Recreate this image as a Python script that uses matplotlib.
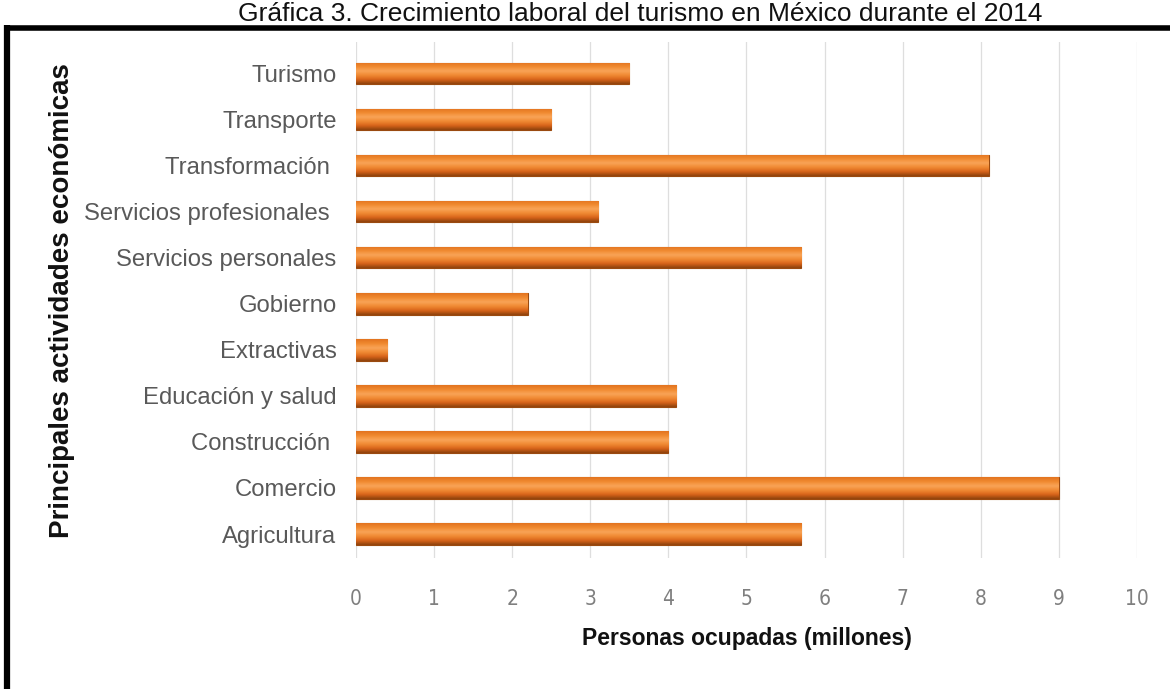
import matplotlib
matplotlib.use("Agg")
import matplotlib.pyplot as plt
import numpy as np
from matplotlib.lines import Line2D
from matplotlib.colors import LinearSegmentedColormap

categories = ["Agricultura", "Comercio", "Construcción ", "Educación y salud", "Extractivas",
              "Gobierno", "Servicios personales", "Servicios profesionales ", "Transformación ",
              "Transporte", "Turismo"]
values = [5.7, 9.0, 4.0, 4.1, 0.4, 2.2, 5.7, 3.1, 8.1, 2.5, 3.5]
xticks = [0, 1, 2, 3, 4, 5, 6, 7, 8, 9, 10]

W, H = 1170, 689
fig = plt.figure(figsize=(W/100, H/100), dpi=100)
ax = fig.add_axes([356/W, 1-558/H, (1137-356)/W, (558-42)/H])

y = np.arange(len(categories))
bars = ax.barh(y, values, height=0.47, color="#E5741C", edgecolor="#9A4A10", linewidth=0.8, zorder=3)

# cylinder-like gradient on each bar
cmap = LinearSegmentedColormap.from_list("cyl", ["#8E420C", "#D8641A", "#F08A33", "#F9A457", "#F08A30", "#E2731F"])
grad = np.linspace(0, 1, 64).reshape(-1, 1)
for b in bars:
    x0, y0 = b.get_x(), b.get_y()
    w, h = b.get_width(), b.get_height()
    im = ax.imshow(grad, cmap=cmap, aspect="auto", extent=[x0, x0 + w, y0, y0 + h],
                   origin="lower", zorder=4, interpolation="bicubic")
    im.set_clip_path(b)

ax.set_xlim(0, 10)
ax.set_ylim(-0.52, 10.68)
ax.set_xticks(xticks)
ax.set_xticklabels([str(t) for t in xticks], color="#7f7f7f", fontsize=15,
                   family="DejaVu Sans", fontstretch="condensed", fontweight="light")
ax.set_yticks(y)
ax.set_yticklabels(categories, color="#595959", fontsize=17.2, family="Liberation Sans")
ax.tick_params(axis="x", length=0, pad=22)
ax.tick_params(axis="y", length=0, pad=14)
for s in ax.spines.values():
    s.set_visible(False)
ax.grid(axis="x", color="#dedede", linewidth=0.9, zorder=0)
ax.set_axisbelow(True)

ax.set_xlabel("Personas ocupadas (millones)", fontsize=16.5, fontweight="bold", color="#111111",
              family="Liberation Sans", labelpad=13)
fig.text(62/W, 1-301/H, "Principales actividades económicas", rotation=90, fontsize=20,
         fontweight="bold", color="#111111", ha="center", va="center", family="Liberation Sans")

# title
fig.text(640/W, 1-21/H, "Gráfica 3. Crecimiento laboral del turismo en México durante el 2014",
         fontsize=19, ha="center", va="baseline", color="#111111", family="Liberation Sans")

# black frame (left and top)
fig.add_artist(Line2D([7/W, 7/W], [0, 1-25/H], transform=fig.transFigure, color="black", linewidth=4.5,
                      solid_capstyle="butt"))
fig.add_artist(Line2D([4.8/W, 1], [1-27.5/H, 1-27.5/H], transform=fig.transFigure, color="black",
                      linewidth=4, solid_capstyle="butt"))

fig.savefig("out.png", dpi=100)
